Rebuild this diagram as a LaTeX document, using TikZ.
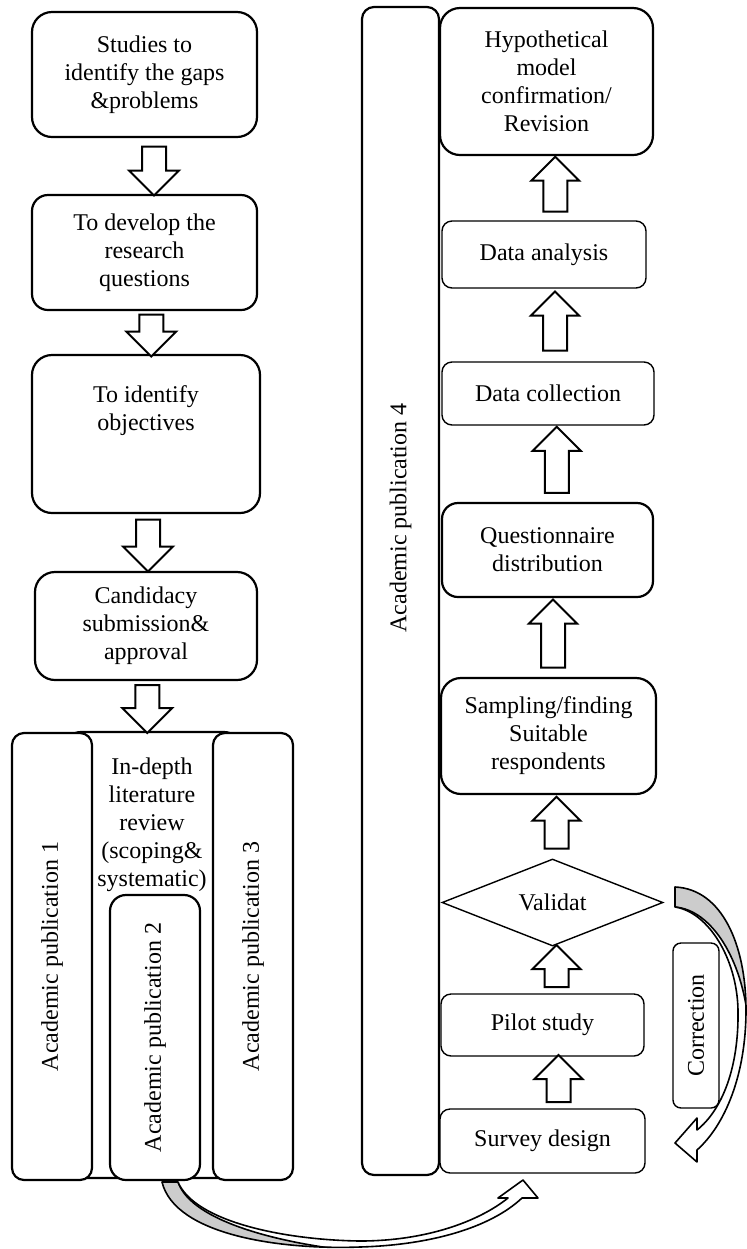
\documentclass[tikz,border=0pt]{standalone}
\usepackage{fontspec}
\setmainfont{Liberation Serif}
\usetikzlibrary{shapes.geometric,shapes.arrows,calc}

% band of the lower loop arrow (pub 2 -> survey design)
\newcommand{\lowloop}{(162,1182) .. controls (175,1235) and (280,1250) .. (360,1247)
    .. controls (430,1245) and (490,1228) .. (522,1198) -- (538,1198) -- (523,1180) -- (498,1198) -- (508,1198)
    .. controls (478,1222) and (425,1241) .. (360,1241) .. controls (285,1240) and (195,1222) .. (178,1182) -- cycle}
% band of the correction loop arrow (validat -> survey design)
\newcommand{\corrloop}{(675,887) .. controls (722,889) and (746,945) .. (746,1010)
    .. controls (746,1075) and (725,1125) .. (697,1150) -- (697,1162) -- (675,1143) -- (697,1118) -- (697,1130)
    .. controls (722,1110) and (739,1068) .. (738,1010) .. controls (737,958) and (708,912) .. (675,907) -- cycle}

\begin{document}
\begin{tikzpicture}[x=0.5pt, y=-0.5pt,
    font=\fontsize{12}{14}\selectfont,
    thickbox/.style={rectangle, draw, line width=1.1pt, fill=white, align=center, rounded corners=10pt, inner sep=0pt},
    thinbox/.style={rectangle, draw, line width=0.7pt, fill=white, align=center, rounded corners=5pt, inner sep=0pt},
    pubbox/.style={rectangle, draw, line width=1.1pt, fill=white, rotate=90, rounded corners=6pt, inner sep=0pt},
    blockdown/.style={single arrow, draw, line width=1pt, fill=white, inner xsep=0pt, inner ysep=5.5pt, single arrow head extend=6.5pt, rotate=-90},
    blockup/.style={single arrow, draw, line width=1pt, fill=white, inner xsep=0pt, inner ysep=5.5pt, single arrow head extend=6pt, rotate=90},
    bandline/.style={line width=0.8pt, line join=round}]
    \useasboundingbox (0,0) rectangle (747,1249);

    % left column
    \node (stud) [thickbox, minimum width=112.5pt, minimum height=62.5pt] at (144.5,74.5) {Studies to\\identify the gaps\\\&problems};
    \node (quest) [thickbox, minimum width=112.5pt, minimum height=57.5pt, rounded corners=8pt] at (144.5,252.5) {To develop the\\research\\questions};
    \node (obj) [thickbox, minimum width=114pt, minimum height=79pt] at (146,434) {};
    \node (objtext) [align=center] at (146,411) {To identify\\objectives};
    \node (cand) [thickbox, minimum width=111pt, minimum height=54pt] at (146,626) {Candidacy\\submission\&\\approval};

    \node (lit) [thickbox, minimum width=87.5pt, minimum height=223pt, rounded corners=8pt] at (152.5,955) {};
    \node (pub1) [pubbox, minimum width=223.5pt, minimum height=40pt] at (52,956.5) {Academic publication 1};
    \node (pub3) [pubbox, minimum width=223.5pt, minimum height=40pt] at (253,956.5) {Academic publication 3};
    \node (pub2) [pubbox, minimum width=142.5pt, minimum height=45pt, rounded corners=8pt] at (155,1037.5) {Academic publication 2};
    \node (littext) [align=center, anchor=north, inner sep=0pt] at (152,757) {In-depth\\literature\\review\\(scoping\&\\systematic)};

    \node (a1) [blockdown, minimum height=24.5pt] at ($(stud.south)!0.5!(quest.north)+(9.5,-1)$) {};
    \node (a2) [blockdown, minimum height=21pt] at ($(quest.south)!0.5!(obj.north)+(6,-3)$) {};
    \node (a3) [blockdown, minimum height=26pt] at ($(obj.south)!0.5!(cand.north)+(2,-3)$) {};
    \node (a4) [blockdown, minimum height=24pt] at ($(cand.south)!0.5!(lit.north)+(-2,-3)$) {};

    % right column
    \node (pub4) [pubbox, minimum width=584pt, minimum height=38.5pt] at (400.5,591) {};
    \node (pub4text) [rotate=90] at (400.5,518) {Academic publication 4};

    \node (hyp) [thickbox, minimum width=106.5pt, minimum height=73.5pt] at (546.5,81.5) {Hypothetical\\model\\confirmation/\\Revision};
    \node (ana) [thinbox, minimum width=102pt, minimum height=33.5pt] at (544,254.5) {Data analysis};
    \node (col) [thinbox, minimum width=106pt, minimum height=31.5pt] at (548,393.5) {Data collection};
    \node (qd) [thickbox, minimum width=105.5pt, minimum height=47pt, rounded corners=8pt] at (547.5,550) {Questionnaire\\distribution};
    \node (samp) [thickbox, minimum width=107.5pt, minimum height=58pt] at (548.5,736) {Sampling/finding\\Suitable\\respondents};
    \node (val) [diamond, draw, line width=0.7pt, fill=white, minimum width=110.5pt, minimum height=43.5pt, inner sep=0pt] at (552.5,902.5) {Validat};
    \node (pil) [thinbox, minimum width=101.5pt, minimum height=31pt] at (542.5,1025) {Pilot study};
    \node (surv) [thinbox, minimum width=102.5pt, minimum height=32pt] at (542.5,1141) {Survey design};
    \node (corr) [pubbox, line width=0.7pt, minimum width=82.5pt, minimum height=23pt, rounded corners=4pt] at (696,1025.5) {Correction};

    \node (r1) [blockup, minimum height=23.5pt] at ($(surv.north)!0.5!(pil.south)+(16,2)$) {};
    \node (r2) [blockup, minimum height=21pt] at ($(pil.north)!0.5!(val.south)+(9,2)$) {};
    \node (r3) [blockup, minimum height=26pt] at ($(val.north)!0.5!(samp.south)+(6,2)$) {};
    \node (r4) [blockup, minimum height=34pt] at ($(samp.north)!0.5!(qd.south)+(5,2)$) {};
    \node (r5) [blockup, minimum height=33pt] at ($(qd.north)!0.5!(col.south)+(9,2)$) {};
    \node (r6) [blockup, minimum height=29.5pt] at ($(col.north)!0.5!(ana.south)+(9,2)$) {};
    \node (r7) [blockup, minimum height=27.5pt] at ($(ana.north)!0.5!(hyp.south)+(10,2)$) {};

    % curved arrow from publication 2 to survey design
    \fill[white] \lowloop;
    \begin{scope}
        \clip \lowloop;
        \fill[gray!40] (178,1182) .. controls (192,1223) and (285,1243) .. (345,1250) -- (345,1300) -- (100,1300) -- (100,1182) -- cycle;
        \draw[bandline] (178,1182) .. controls (192,1223) and (285,1243) .. (345,1250);
    \end{scope}
    \draw[bandline] \lowloop;

    % correction loop
    \fill[white] \corrloop;
    \begin{scope}
        \clip \corrloop;
        \fill[gray!40] (675,907) .. controls (712,910) and (742,960) .. (748,1020) -- (800,1020) -- (800,850) -- (650,850) -- (650,907) -- cycle;
        \draw[bandline] (675,907) .. controls (712,910) and (742,960) .. (748,1020);
    \end{scope}
    \draw[bandline] \corrloop;
\end{tikzpicture}
\end{document}
